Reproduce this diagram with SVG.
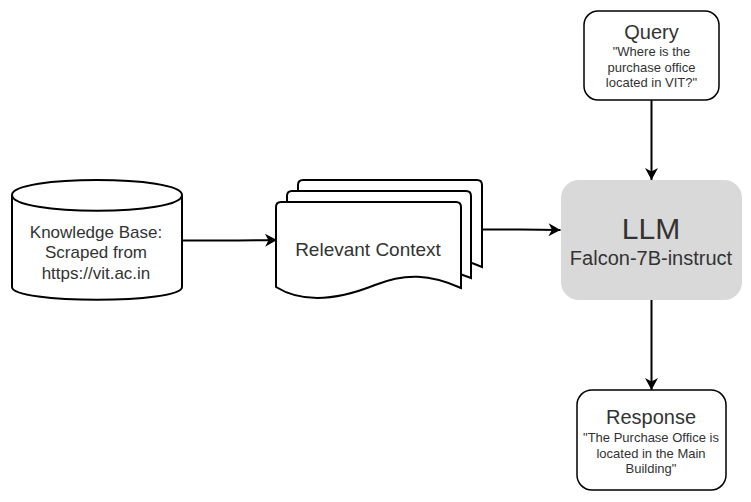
<svg xmlns="http://www.w3.org/2000/svg" width="751" height="502" viewBox="0 0 751 502">
<defs>
<style>
text{font-family:"Liberation Sans",Arial,sans-serif;fill:#333;text-anchor:middle}
.s{fill:#fff;stroke:#000;stroke-width:2}
.r{fill:#fff;stroke:#000;stroke-width:1.5}
.c{fill:none;stroke:#000;stroke-width:2}
.h{font-size:20px}.m{font-size:17px}.t{font-size:13px}
</style>
<marker id="a" markerUnits="userSpaceOnUse" markerWidth="14" markerHeight="14" refX="12" refY="6.500" orient="auto" overflow="visible"><path d="M0 0L12 6.500L0 13L3.500 6.500Z" fill="#000"/></marker>
</defs>
<rect width="751" height="502" fill="#fff"/>
<g id="connectors">
<path class="c" d="M182 240.500H220Q250 240.500 277 240" marker-end="url(#a)"/>
<path class="c" d="M482 229.500H520Q540 229.500 560.500 230" marker-end="url(#a)"/>
<path class="c" d="M651.500 100V180" marker-end="url(#a)"/>
<path class="c" d="M651.500 300V390" marker-end="url(#a)"/>
</g>
<g id="knowledge-base">
<path class="s" d="M12 195C12 175 182 175 182 195V287C182 304 12 304 12 287Z"/>
<path class="c" d="M12 195C12 216 182 216 182 195"/>
<text class="m" x="96" y="238">Knowledge Base:</text>
<text class="m" x="96" y="258">Scraped from</text>
<text class="m" x="96" y="279">https://vit.ac.in</text>
</g>
<g id="relevant-context">
<path class="s" d="M298 192V185Q298 180 303 180H477Q482 180 482 185V267L472 263"/>
<path class="s" d="M287 203V196Q287 191 292 191H466Q471 191 471 196V278L460 274"/>
<path class="s" d="M276 207Q276 202 281 202H456Q461 202 461 207V288C430 274 405 273 375 285C340 299 305 305 276 287Z"/>
<text x="368" y="256" font-size="19">Relevant Context</text>
</g>
<g id="llm">
<rect x="561" y="180" width="181" height="120" rx="18" fill="#d9d9d9"/>
<text x="651" y="239" font-size="30">LLM</text>
<text x="651" y="265" font-size="20">Falcon-7B-instruct</text>
</g>
<g id="query">
<rect class="r" x="584" y="11" width="135" height="89" rx="14"/>
<text class="h" x="651.500" y="39">Query</text>
<text class="t" x="651.500" y="56">"Where is the</text>
<text class="t" x="651.500" y="72">purchase office</text>
<text class="t" x="651.500" y="87">located in VIT?"</text>
</g>
<g id="response">
<rect class="r" x="577" y="390" width="149" height="100" rx="15"/>
<text class="h" x="651" y="424">Response</text>
<text class="t" x="651" y="442">"The Purchase Office is</text>
<text class="t" x="651" y="458">located in the Main</text>
<text class="t" x="651" y="473">Building"</text>
</g>
</svg>
